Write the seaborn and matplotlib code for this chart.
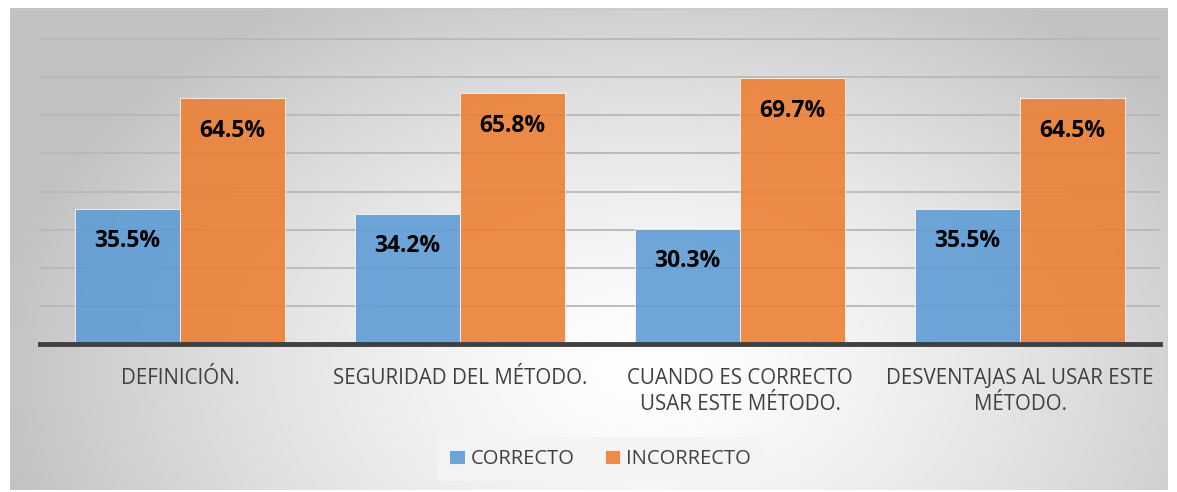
import numpy as np
import pandas as pd
import matplotlib
matplotlib.use("Agg")
import matplotlib.pyplot as plt
import seaborn as sns

categories = ["DEFINICIÓN.", "SEGURIDAD DEL MÉTODO.",
              "CUANDO ES CORRECTO\nUSAR ESTE MÉTODO.",
              "DESVENTAJAS AL USAR ESTE\nMÉTODO."]
correcto = [35.5, 34.2, 30.3, 35.5]
incorrecto = [64.5, 65.8, 69.7, 64.5]
series_names = ["CORRECTO", "INCORRECTO"]
colors = ["#5B9BD5", "#ED7D31"]

df = pd.DataFrame({
    "cat": categories * 2,
    "serie": [series_names[0]] * 4 + [series_names[1]] * 4,
    "val": correcto + incorrecto,
})

sns.set_theme(style="white")
plt.rcParams['font.family'] = ['Open Sans', 'DejaVu Sans']

W, H = 1177, 492
fig = plt.figure(figsize=(W / 100, H / 100), dpi=100)
fig.patch.set_facecolor("white")

# radial gradient background
bg = fig.add_axes([10 / W, 1 - 490 / H, 1158 / W, 482 / H], zorder=0)
yy, xx = np.mgrid[0:482, 0:1158]
cx, cy = 640, 360
r = np.sqrt(((xx - cx) / 660) ** 2 + ((yy - cy) / 440) ** 2)
r = np.clip(r, 0, 1)
val = 1.0 - 0.24 * r ** 1.4
img = np.dstack([val, val, val])
bg.imshow(img, aspect="auto", interpolation="bilinear")
bg.set_axis_off()
bg.plot([0, 1157], [0, 0], color="#c8c8c8", lw=1)

ax = fig.add_axes([40 / W, 1 - 344 / H, 1120 / W, 306 / H], zorder=1)
ax.patch.set_alpha(0)
sns.barplot(data=df, x="cat", y="val", hue="serie", palette=colors,
            saturation=1, width=0.75, ax=ax, alpha=0.88, edgecolor="white",
            linewidth=0.6, legend=True, zorder=3)
ax.set_ylim(0, 80.3)
ax.set_xlim(-0.5, 3.5)
ax.set_yticks(np.arange(10, 81, 10))
ax.yaxis.grid(True, color="#b8b8b8", lw=1.3, zorder=0)
ax.set_axisbelow(True)
ax.tick_params(axis="y", left=False, labelleft=False)
ax.tick_params(axis="x", bottom=False, labelsize=14.8, labelcolor="#404040", pad=11)
for t in ax.get_xticklabels():
    t.set_verticalalignment("top")
    t.set_linespacing(1.35)
ax.set_xlabel("")
ax.set_ylabel("")
for s in ["top", "right", "left"]:
    ax.spines[s].set_visible(False)
ax.spines["bottom"].set_color("#404040")
ax.spines["bottom"].set_linewidth(3.5)
ax.spines["bottom"].set_zorder(5)

for cont in ax.containers:
    for bar in cont:
        h = bar.get_height()
        ax.text(bar.get_x() + bar.get_width() / 2, h - 8.5, f"{h:.1f}%",
                ha="center", va="center", fontsize=16.5, fontweight="bold",
                color="black", zorder=6)

handles, labels = ax.get_legend_handles_labels()
ax.get_legend().remove()
leg = fig.legend(handles, labels, loc="center", bbox_to_anchor=(600 / W, 1 - 459 / H),
                 ncol=2, frameon=True, fontsize=14.5, handlelength=0.75, handleheight=0.75,
                 columnspacing=1.5, handletextpad=0.3, borderpad=0.6,
                 labelcolor="#404040")
leg.get_frame().set_facecolor("#f4f4f4")
leg.get_frame().set_edgecolor("none")
leg.get_frame().set_alpha(0.9)
leg.get_frame().set_boxstyle("square", pad=0.0)

fig.savefig("out.png", dpi=100, facecolor="white")
